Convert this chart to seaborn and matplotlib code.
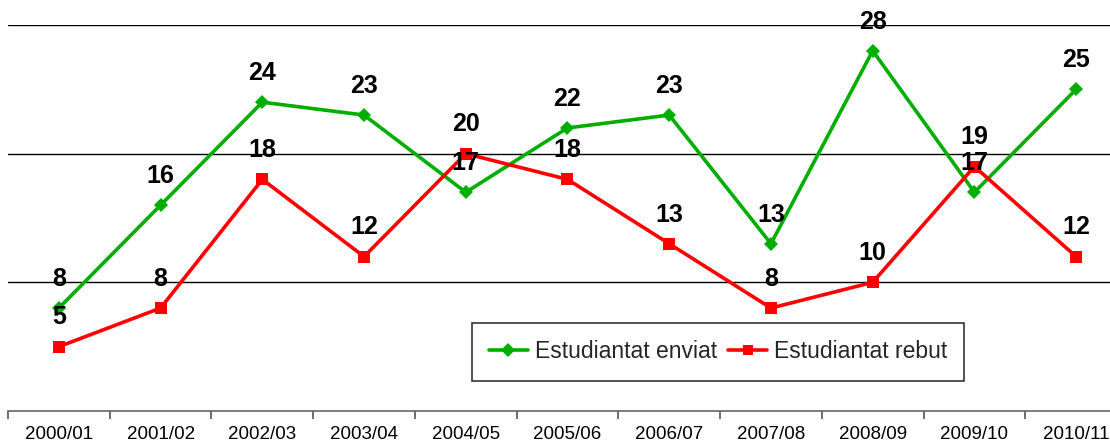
import matplotlib
matplotlib.use("Agg")
import matplotlib.pyplot as plt
import seaborn as sns
import pandas as pd
import numpy as np
from matplotlib.ticker import FixedLocator

years = ["2000/01", "2001/02", "2002/03", "2003/04", "2004/05", "2005/06",
         "2006/07", "2007/08", "2008/09", "2009/10", "2010/11"]
enviat = [8, 16, 24, 23, 17, 22, 23, 13, 28, 17, 25]
rebut = [5, 8, 18, 12, 20, 18, 13, 8, 10, 19, 12]
series_names = ["Estudiantat enviat", "Estudiantat rebut"]

sns.set_theme(style="white")
plt.rcParams["font.family"] = ["Liberation Sans", "DejaVu Sans"]

df = pd.DataFrame({
    "idx": list(range(len(years))) * 2,
    "valor": enviat + rebut,
    "serie": [series_names[0]] * len(years) + [series_names[1]] * len(years),
})

W, H = 1110, 447
fig = plt.figure(figsize=(W / 100, H / 100), dpi=100)
ax = fig.add_axes([8 / W, (H - 411) / H, 1119 / W, 386 / H])

palette = {series_names[0]: "#00AE00", series_names[1]: "#FF0000"}
markers = {series_names[0]: "D", series_names[1]: "s"}
sns.lineplot(data=df, x="idx", y="valor", hue="serie", style="serie",
             palette=palette, markers=markers, dashes=False, linewidth=2.6,
             markersize=7, markeredgewidth=0, ax=ax, legend=True)
for line, ms in zip(ax.lines, [7, 8.5]):
    line.set_markersize(ms)

# value labels above every point
for vals in (enviat, rebut):
    for i, v in enumerate(vals):
        ax.annotate(str(v), (i, v), xytext=(0, 21), textcoords="offset points",
                    ha="center", va="center", fontsize=18, fontweight="bold",
                    color="black", annotation_clip=False)

ax.set_xlim(-0.5, len(years) - 0.5)
ax.set_ylim(0, 30)
ax.set_yticks([])
for g in (10, 20, 30):
    ax.axhline(g, color="black", linewidth=1.0, zorder=0)

ax.set_xticks(range(len(years)))
ax.set_xticklabels(years, fontsize=13.5)
ax.xaxis.set_minor_locator(FixedLocator(np.arange(-0.5, len(years), 1.0)))
ax.tick_params(axis="x", which="major", length=0, pad=11, colors="black")
ax.tick_params(axis="x", which="minor", length=6, width=1.2, color="#555555",
               direction="out", bottom=True)
ax.set_xlabel("")
ax.set_ylabel("")
for s in ("top", "right", "left"):
    ax.spines[s].set_visible(False)
ax.spines["bottom"].set_color("#666666")
ax.spines["bottom"].set_linewidth(1.2)

handles, labels = ax.get_legend_handles_labels()
ax.legend_.remove()
leg = fig.legend(handles, labels, loc="center", ncol=2,
                 bbox_to_anchor=(718 / W, 1 - 352 / H), bbox_transform=fig.transFigure,
                 fontsize=16.5, frameon=True, fancybox=False, edgecolor="black",
                 handlelength=1.7, handletextpad=0.3, columnspacing=0.5,
                 borderpad=0.75, borderaxespad=0)
leg.get_frame().set_linewidth(1.2)

fig.savefig("out.png", dpi=100)
